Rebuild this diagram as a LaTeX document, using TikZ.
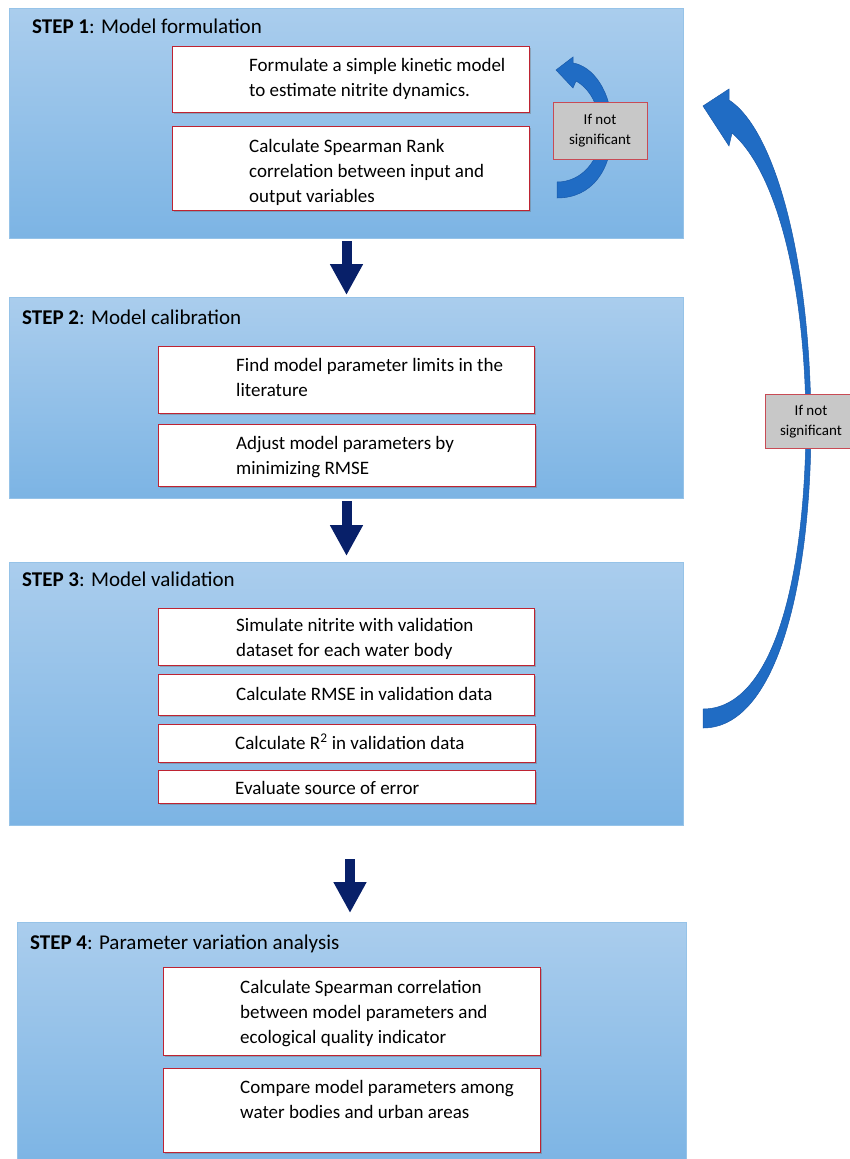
\documentclass[tikz,border=0pt]{standalone}
\usepackage{fontspec}
\setmainfont{Carlito}
\usetikzlibrary{shadows,arrows.meta}
\definecolor{panelTop}{RGB}{170,205,237}
\definecolor{panelBot}{RGB}{124,180,228}
\definecolor{panelEdge}{RGB}{150,195,232}
\definecolor{boxRed}{RGB}{190,35,50}
\definecolor{noteRed}{RGB}{200,75,85}
\definecolor{noteGray}{RGB}{200,200,200}
\definecolor{navyArr}{RGB}{8,32,105}
\definecolor{arrBlue}{RGB}{32,108,196}
\definecolor{arrEdge}{RGB}{25,90,170}
\newcommand\mystrut[1]{\rule{0pt}{#1}}
\begin{document}
\begin{tikzpicture}[x=1pt,y=-1pt,
 panel/.style={draw=panelEdge, line width=1pt, top color=panelTop, bottom color=panelBot, anchor=north west, inner sep=0pt},
 stepbox/.style={draw=boxRed, line width=1.4pt, fill=white, anchor=north west, inner sep=0pt, drop shadow={shadow xshift=1.5pt, shadow yshift=-1.5pt, opacity=0.35, fill=black!60}},
 notebox/.style={draw=noteRed, line width=1.2pt, fill=noteGray, anchor=north west, inner sep=0pt},
 ttl/.style={font=\fontsize{21}{25}\selectfont, anchor=base west, inner sep=0pt},
 body/.style={font=\fontsize{19}{25}\selectfont, align=left, anchor=north west, inner sep=0pt},
 note/.style={font=\fontsize{15}{20}\selectfont, align=center, anchor=north, inner sep=0pt},
 downarrow/.style={navyArr, line width=10pt, -{Triangle[width=31pt,length=31pt]}},
 curvarrow/.style={fill=arrBlue, draw=arrEdge, line width=0.5pt}]

\useasboundingbox (0,0) rectangle (850,1159);

% panels
\node[panel, minimum width=674pt, minimum height=230pt] (p1) at (9,8) {};
\node[panel, minimum width=674pt, minimum height=201pt] (p2) at (9,297) {};
\node[panel, minimum width=674pt, minimum height=263pt] (p3) at (9,562) {};
\node[panel, minimum width=669pt, minimum height=245pt] (p4) at (17,922) {};

% titles
\node[ttl] (t1) at (32,33.5) {\textbf{STEP 1}: Model formulation};
\node[ttl] (t2) at (22,324.5) {\textbf{STEP 2}: Model calibration};
\node[ttl] (t3) at (22,586.5) {\textbf{STEP 3}: Model validation};
\node[ttl] (t4) at (30,949.5) {\textbf{STEP 4}: Parameter variation analysis};

% boxes
\node[stepbox, minimum width=357pt, minimum height=66pt] (b11) at (172,46) {};
\node[stepbox, minimum width=357pt, minimum height=84pt] (b12) at (172,126) {};
\node[stepbox, minimum width=376pt, minimum height=67pt] (b21) at (158,346) {};
\node[stepbox, minimum width=377pt, minimum height=62pt] (b22) at (158,424) {};
\node[stepbox, minimum width=376pt, minimum height=57pt] (b31) at (158,608) {};
\node[stepbox, minimum width=376pt, minimum height=41pt] (b32) at (158,674) {};
\node[stepbox, minimum width=377pt, minimum height=38pt] (b33) at (158,724) {};
\node[stepbox, minimum width=377pt, minimum height=33pt] (b34) at (158,770) {};
\node[stepbox, minimum width=377pt, minimum height=88pt] (b41) at (163,967) {};
\node[stepbox, minimum width=377pt, minimum height=84pt] (b42) at (163,1068) {};

% box texts
\node[body] (x11) at (249,56) {\mystrut{15pt}Formulate a simple kinetic model\\to estimate nitrite dynamics.};
\node[body] (x12) at (249,137) {\mystrut{15pt}Calculate Spearman Rank\\correlation between input and\\output variables};
\node[body] (x21) at (236,356) {\mystrut{15pt}Find model parameter limits in the\\literature};
\node[body] (x22) at (236,434) {\mystrut{15pt}Adjust model parameters by\\minimizing RMSE};
\node[body] (x31) at (236,616) {\mystrut{15pt}Simulate nitrite with validation\\dataset for each water body};
\node[body] (x32) at (236,685) {\mystrut{15pt}Calculate RMSE in validation data};
\node[body] (x33) at (235,734) {\mystrut{15pt}Calculate R\textsuperscript{2} in validation data};
\node[body] (x34) at (235,779) {\mystrut{15pt}Evaluate source of error};
\node[body] (x41) at (240,978) {\mystrut{15pt}Calculate Spearman correlation\\between model parameters and\\ecological quality indicator};
\node[body] (x42) at (240,1078) {\mystrut{15pt}Compare model parameters among\\water bodies and urban areas};

% down arrows
\coordinate (a3s) at (350,859);
\coordinate (a3e) at (350,913);
\draw[downarrow] ([yshift=-2pt]p1.south) -- ([yshift=2pt]p2.north);
\draw[downarrow] ([yshift=-2pt]p2.south) -- ([yshift=6pt]p3.north);
\draw[downarrow] (a3s) -- (a3e);

% small curved arrow (step 1 loop)
\draw[curvarrow] (573,57) -- (573,63) .. controls (592,66) and (612,90) .. (612,130)
  .. controls (612,170) and (592,198) .. (557,198) -- (557,182)
  .. controls (582,182) and (600,160) .. (600,135)
  .. controls (601,110) and (592,90) .. (576,81) -- (573,88) -- (556,70) -- cycle;

% big curved arrow (back to step 1)
\draw[curvarrow] (703,728) .. controls (775,728) and (810,590) .. (811,430)
  .. controls (811,260) and (775,130) .. (729,100)
  -- (729,89) -- (703,106) -- (729,146) -- (732,133)
  .. controls (775,170) and (806,280) .. (806,430)
  .. controls (804,590) and (770,709) .. (703,709) -- cycle;

% notes
\node[notebox, minimum width=94pt, minimum height=57pt] (n1) at (553,102) {};
\node[note] (nt1) at (600,112) {\mystrut{12pt}If not\\significant};
\node[notebox, minimum width=95pt, minimum height=54pt] (n2) at (765,394) {};
\node[note] (nt2) at (811,403) {\mystrut{12pt}If not\\significant};
\end{tikzpicture}
\end{document}
